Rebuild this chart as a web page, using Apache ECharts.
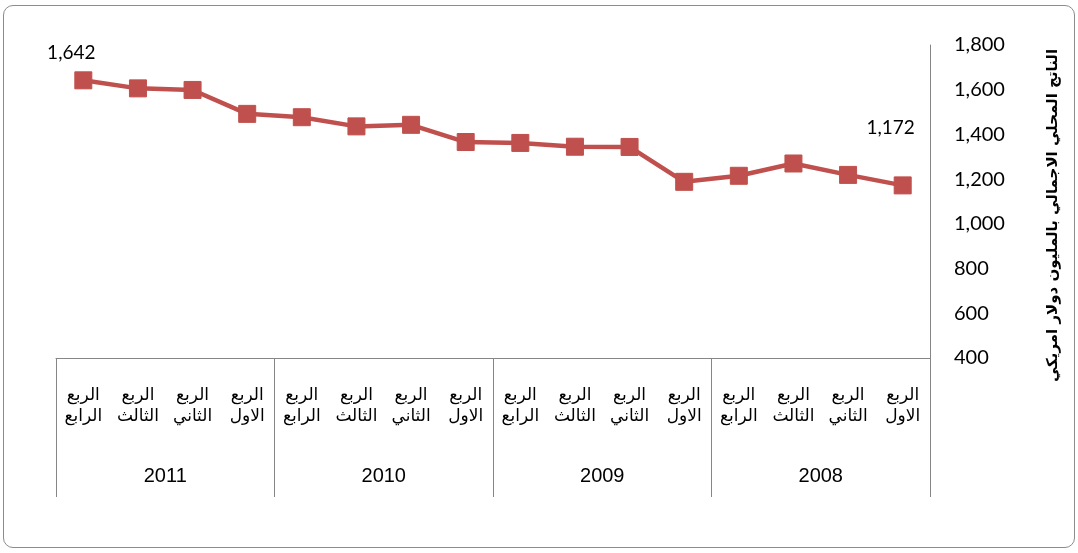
<!DOCTYPE html>
<html>
<head>
<meta charset="utf-8">
<script src="https://cdn.jsdelivr.net/npm/echarts@6/dist/echarts.min.js"></script>
<style>
  html, body { margin: 0; padding: 0; background: #fff; }
  #chart { position: absolute; left: 3px; top: 5px; width: 1070px; height: 541px;
           border: 1px solid #8c8c8c; border-radius: 10px; }
</style>
</head>
<body>
<div id="chart"></div>
<script>
// years and quarters, chronological order (drawn right-to-left)
var years = ['2008', '2009', '2010', '2011'];
var quarters = ['الاول', 'الثاني', 'الثالث', 'الرابع'];
// GDP in million US$, 2008 Q1 ... 2011 Q4
var gdp = [1172, 1219, 1270, 1215, 1188, 1344, 1345, 1362,
           1366, 1443, 1436, 1477, 1492, 1599, 1606, 1642];
var yTicks = { min: 400, max: 1800, step: 200 };
var yName = 'الناتج المحلي الاجمالي بالمليون دولار امريكي';

var cats = [];
for (var y = 0; y < years.length; y++) {
    for (var q = 0; q < quarters.length; q++) {
        cats.push('الربع\n' + quarters[q]);
    }
}

// only first and last point carry a value label
var seriesData = gdp.map(function (v, i) {
    var item = { value: v };
    if (i === 0) {
        item.label = { show: true, offset: [-12, -34] };
    } else if (i === gdp.length - 1) {
        item.label = { show: true, offset: [-12, -4] };
    }
    return item;
});

var chart = echarts.init(document.getElementById('chart'));
var option = {
    animation: false,
    grid: { left: 52, right: 144, top: 39, bottom: 189 },
    xAxis: [
        {
            type: 'category',
            inverse: true,
            data: cats,
            axisLine: { lineStyle: { color: '#868686', width: 1 } },
            axisTick: { show: false },
            axisLabel: {
                interval: 0,
                margin: 27,
                color: '#000',
                fontFamily: 'Liberation Sans, DejaVu Sans',
                fontSize: 17,
                lineHeight: 21
            }
        },
        {
            type: 'category',
            inverse: true,
            position: 'bottom',
            data: years,
            axisLine: { show: false },
            axisTick: { show: true, length: 139, interval: 0,
                        lineStyle: { color: '#868686', width: 1 } },
            axisLabel: {
                interval: 0,
                margin: 108,
                color: '#000',
                fontFamily: 'Liberation Sans, DejaVu Sans',
                fontSize: 20
            }
        }
    ],
    yAxis: {
        type: 'value',
        position: 'right',
        min: yTicks.min,
        max: yTicks.max,
        interval: yTicks.step,
        splitLine: { show: false },
        axisLine: { show: true, lineStyle: { color: '#868686', width: 1 } },
        axisTick: { show: false },
        axisLabel: {
            margin: 24,
            color: '#000',
            fontFamily: 'Lato, Open Sans',
            fontSize: 20,
            formatter: function (v) { return v.toLocaleString('en-US'); }
        },
        name: yName,
        nameLocation: 'middle',
        nameRotate: 90,
        nameGap: 116,
        nameTextStyle: {
            color: '#000',
            fontWeight: 'bold',
            fontSize: 15,
            fontFamily: 'DejaVu Sans',
            padding: [0, 28, 0, 0]
        }
    },
    series: [{
        type: 'line',
        xAxisIndex: 0,
        data: seriesData,
        symbol: 'rect',
        symbolSize: 17,
        lineStyle: { color: '#C0504D', width: 4.5 },
        itemStyle: { color: '#C0504D', borderColor: '#C0504D' },
        label: {
            show: false,
            position: 'top',
            color: '#000',
            fontFamily: 'Lato, Open Sans',
            fontSize: 19,
            formatter: function (p) { return p.value.toLocaleString('en-US'); }
        }
    }]
};
chart.setOption(option);
</script>
</body>
</html>
